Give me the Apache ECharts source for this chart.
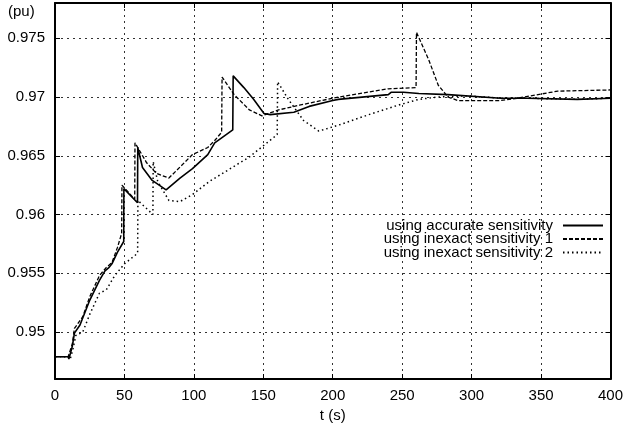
<!DOCTYPE html>
<html>
<head>
<meta charset="utf-8">
<script src="https://cdn.jsdelivr.net/npm/echarts@6/dist/echarts.min.js"></script>
<style>
  html, body { margin: 0; padding: 0; background: #fff; }
  #chart { width: 626px; height: 433px; }
</style>
</head>
<body>
<div id="chart"></div>
<script>
var chartDom = document.getElementById('chart');
var myChart = echarts.init(chartDom);

// legend names
var names = ['using accurate sensitivity', 'using inexact sensitivity 1', 'using inexact sensitivity 2'];
// y tick values
var yTicks = [0.95, 0.955, 0.96, 0.965, 0.97, 0.975];

// accurate sensitivity
var tAcc = [0, 9.5, 10, 12.5, 14, 18, 25, 32, 36, 39, 41, 45, 49.5, 49.6, 59.4, 59.6, 63, 70, 80, 90, 99, 110, 115, 128, 128.3, 136, 143, 150.5, 155, 172, 183, 200, 204, 240, 242, 251, 262, 283, 321, 340, 376, 400];
var vAcc = [0.9479, 0.9479, 0.9477, 0.9488, 0.9499, 0.9506, 0.9527, 0.9544, 0.9552, 0.9555, 0.9558, 0.9568, 0.9577, 0.9622, 0.9610, 0.9657, 0.9640, 0.9629, 0.9621, 0.9631, 0.9639, 0.9651, 0.9661, 0.9672, 0.9718, 0.9708, 0.9698, 0.9686, 0.9685, 0.9687, 0.9692, 0.9697, 0.9698, 0.9702, 0.9704, 0.9704, 0.9703, 0.9702, 0.9699, 0.9699, 0.9698, 0.9699];

// inexact sensitivity 1
var tIn1 = [0, 9.5, 10, 12.5, 14, 20, 25, 32, 37, 41, 45, 48, 48.2, 57.4, 57.6, 66, 73, 82, 99, 110, 115, 120, 120.3, 129, 140, 149, 161, 176, 200, 240, 260, 260.3, 269, 276, 283, 290, 321, 333, 362, 400];
var vIn1 = [0.9479, 0.9479, 0.9478, 0.9490, 0.9503, 0.9513, 0.9530, 0.9548, 0.9555, 0.9559, 0.9572, 0.9584, 0.9625, 0.9613, 0.9661, 0.9644, 0.9635, 0.9631, 0.9651, 0.9657, 0.9663, 0.9670, 0.9717, 0.9702, 0.9689, 0.9684, 0.9689, 0.9693, 0.9699, 0.9707, 0.9708, 0.9755, 0.9732, 0.9710, 0.9700, 0.9697, 0.9697, 0.9699, 0.9705, 0.9706];

// inexact sensitivity 2
var tIn2 = [0, 10.5, 11, 13, 15, 20, 25, 32, 37, 43, 50, 59.5, 59.7, 70.5, 70.7, 74, 82, 90, 99, 111, 140, 160, 160.3, 168, 179, 190, 204, 226, 247, 262, 276, 297, 321, 340, 376, 400];
var vIn2 = [0.9479, 0.9479, 0.9477, 0.9486, 0.9497, 0.9500, 0.9515, 0.9533, 0.9536, 0.9548, 0.9558, 0.9567, 0.9612, 0.9600, 0.9645, 0.9628, 0.9612, 0.9611, 0.9617, 0.9628, 0.9649, 0.9668, 0.9713, 0.9698, 0.9680, 0.9671, 0.9676, 0.9685, 0.9693, 0.9698, 0.9700, 0.9701, 0.9699, 0.9699, 0.9698, 0.9699];

function pairs(t, v) {
    return t.map(function (x, i) { return [x, v[i]]; });
}

var fontFamily = 'Liberation Sans, Arial, sans-serif';
var gridLine = { show: true, lineStyle: { color: '#333', type: [2, 4], width: 1 } };
var frameLine = { show: true, onZero: false, lineStyle: { color: '#000', width: 2 } };

var option = {
    animation: false,
    textStyle: { fontFamily: fontFamily },
    title: {
        text: '(pu)',
        left: 8,
        top: 4,
        padding: 0,
        textStyle: { fontSize: 15, fontWeight: 'normal', color: '#000', fontFamily: fontFamily }
    },
    grid: { left: 55, right: 13, top: 3, bottom: 54 },
    legend: {
        orient: 'vertical',
        align: 'right',
        right: 17,
        top: 213,
        itemWidth: 40,
        itemHeight: 8,
        itemGap: -1.5,
        data: names,
        formatter: function (name) { return '{n|' + name + '}'; },
        itemStyle: { color: 'rgba(0,0,0,0)', borderWidth: 0, opacity: 0 },
        textStyle: {
            fontSize: 15, color: '#000', lineHeight: 13.5, fontFamily: fontFamily,
            rich: { n: { fontSize: 15, color: '#000', lineHeight: 13.5, fontFamily: fontFamily, padding: [0, 5, 0, 0] } }
        }
    },
    xAxis: [{
        type: 'value',
        min: 0,
        max: 400,
        interval: 50,
        name: 't (s)',
        nameLocation: 'middle',
        nameGap: 28,
        nameTextStyle: { fontSize: 15, color: '#000' },
        axisLine: frameLine,
        axisTick: { show: true, inside: true, length: 5, lineStyle: { color: '#000' } },
        axisLabel: { fontSize: 15, color: '#000', margin: 9 },
        splitLine: gridLine
    }, {
        type: 'value',
        position: 'top',
        min: 0,
        max: 400,
        interval: 50,
        axisLine: frameLine,
        axisTick: { show: true, inside: true, length: 5, lineStyle: { color: '#000' } },
        axisLabel: { show: false },
        splitLine: { show: false }
    }],
    yAxis: [{
        type: 'value',
        min: 0.946,
        max: 0.978,
        axisLine: frameLine,
        axisTick: { show: true, inside: true, length: 5, customValues: yTicks, lineStyle: { color: '#000' } },
        axisLabel: { fontSize: 15, color: '#000', margin: 10, customValues: yTicks, formatter: function (v) { return String(+v.toFixed(3)); } },
        splitLine: gridLine
    }, {
        type: 'value',
        position: 'right',
        min: 0.946,
        max: 0.978,
        axisLine: frameLine,
        axisTick: { show: true, inside: true, length: 5, customValues: yTicks, lineStyle: { color: '#000' } },
        axisLabel: { show: false },
        splitLine: { show: false }
    }],
    series: [{
        name: names[0],
        type: 'line',
        symbol: 'none',
        data: pairs(tAcc, vAcc),
        lineStyle: { color: '#000', width: 1.6, type: 'solid' },
        itemStyle: { color: '#000' },
        z: 5
    }, {
        name: names[1],
        type: 'line',
        symbol: 'none',
        data: pairs(tIn1, vIn1),
        lineStyle: { color: '#000', width: 1.3, type: [4, 2] },
        itemStyle: { color: '#000' },
        z: 4
    }, {
        name: names[2],
        type: 'line',
        symbol: 'none',
        data: pairs(tIn2, vIn2),
        lineStyle: { color: '#000', width: 1.5, type: [1.5, 3] },
        itemStyle: { color: '#000' },
        z: 3
    }]
};
myChart.setOption(option);
window.addEventListener('resize', function () {
    myChart.resize();
});
</script>
</body>
</html>
